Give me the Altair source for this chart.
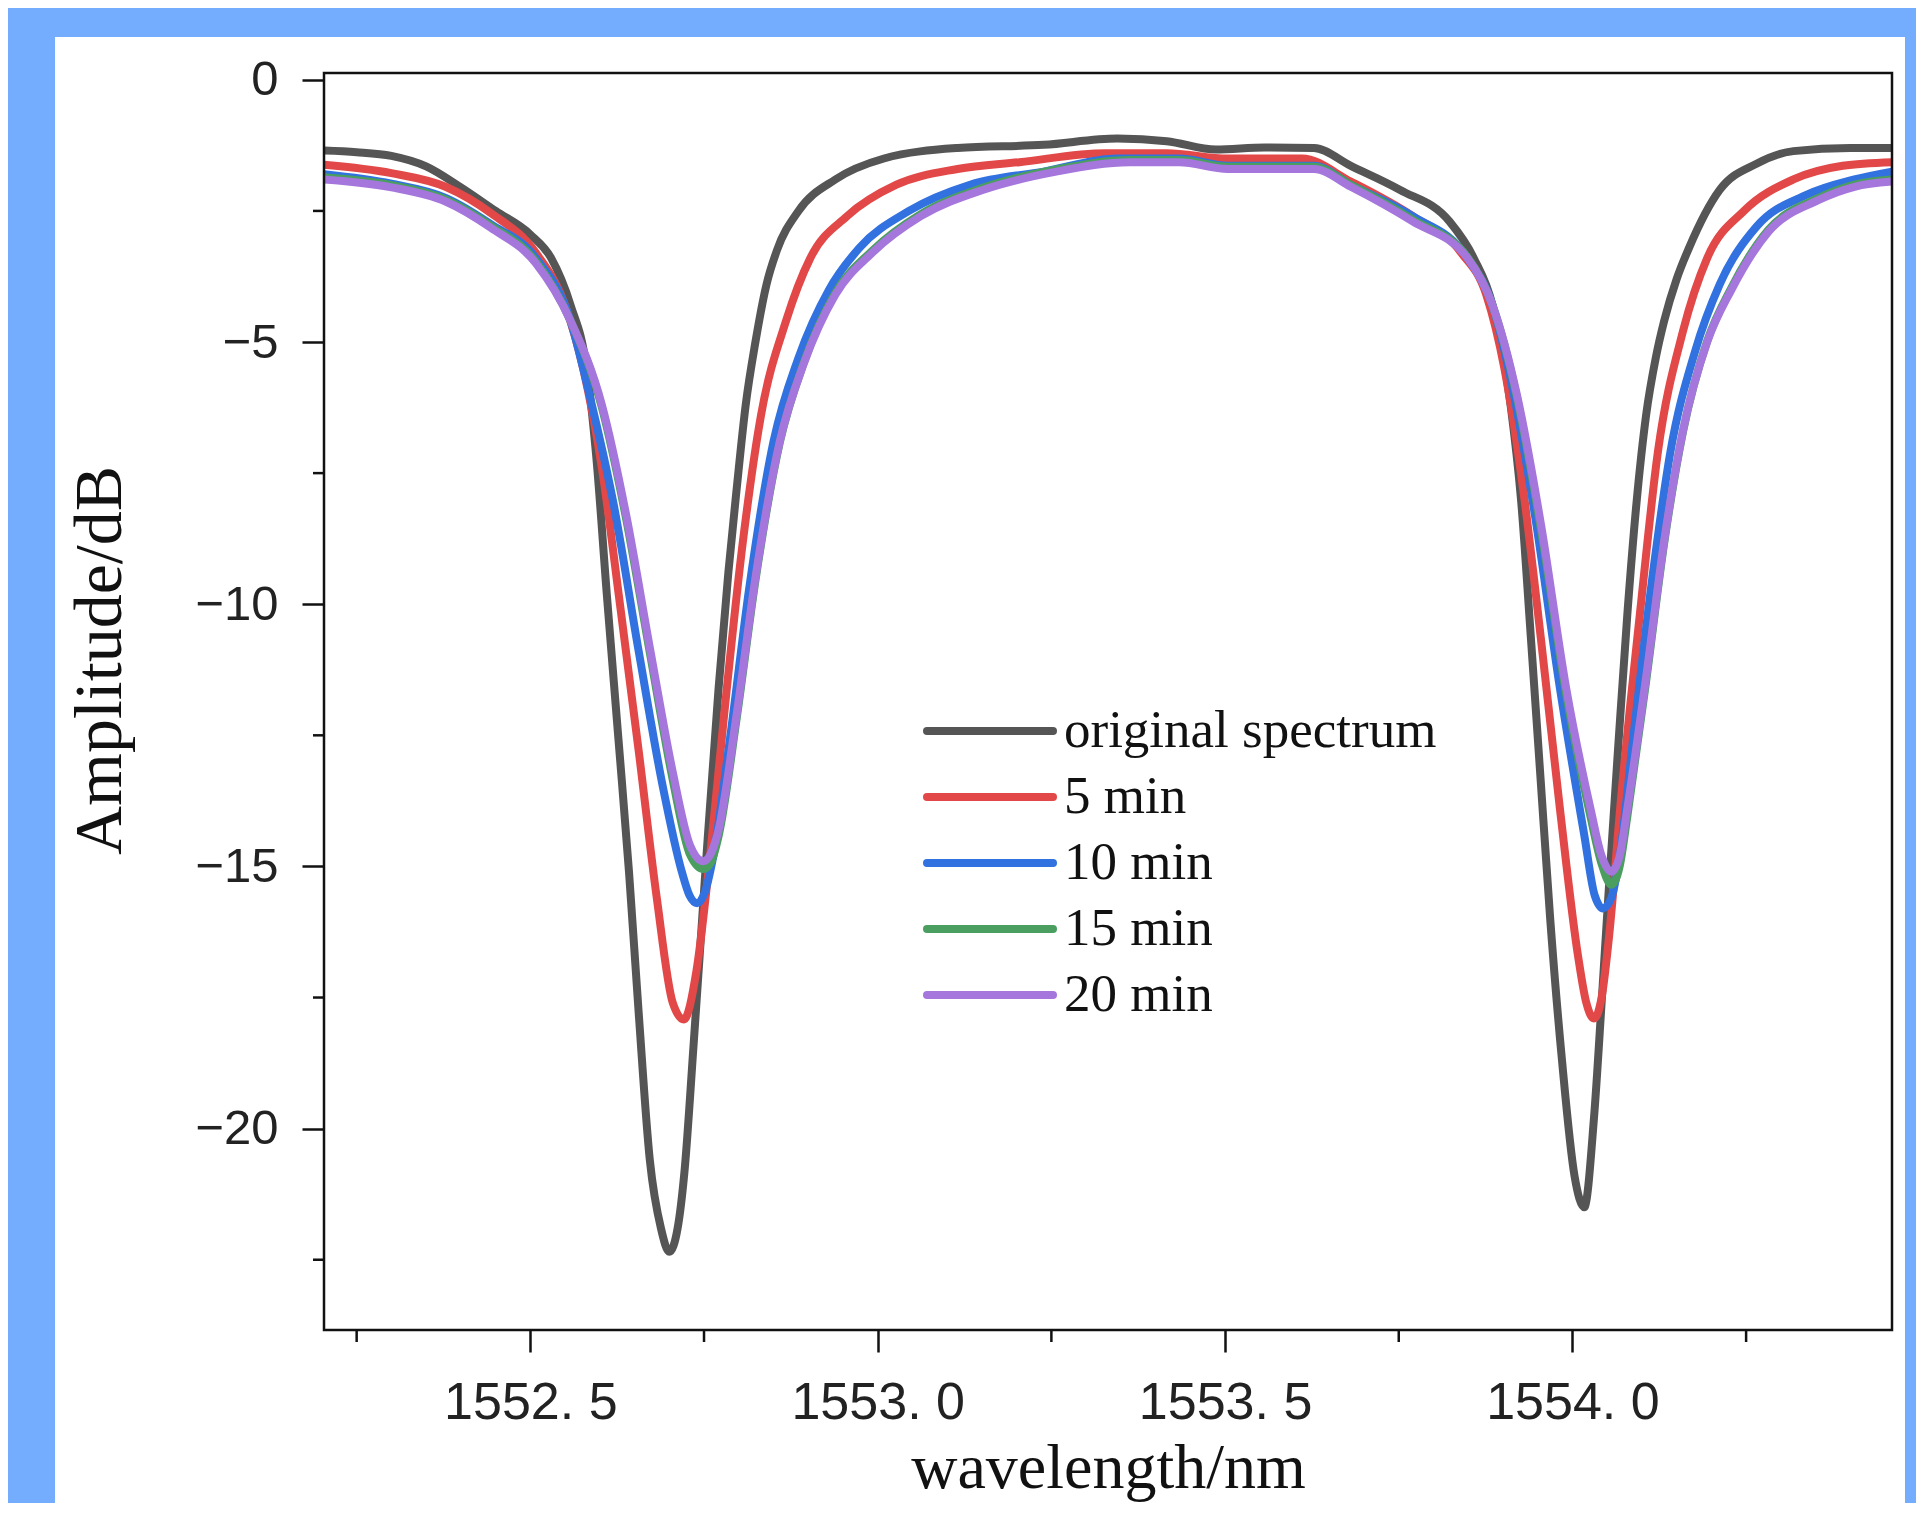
import altair as alt
import pandas as pd

# ---------------- data ----------------
series_names = ["original spectrum", "5 min", "10 min", "15 min", "20 min"]
series_colors = ["#555555", "#e24848", "#3271e0", "#4a9e60", "#a577dc"]

wl_orig = [1552.203, 1552.250, 1552.300, 1552.350, 1552.400, 1552.450, 1552.500, 1552.530, 1552.558, 1552.581,
           1552.595, 1552.610, 1552.627, 1552.642, 1552.656, 1552.672, 1552.688, 1552.700, 1552.712, 1552.722,
           1552.735, 1552.753, 1552.771, 1552.785, 1552.797, 1552.810, 1552.824, 1552.840, 1552.855, 1552.886,
           1552.939, 1553.009, 1553.115, 1553.239, 1553.345, 1553.416, 1553.487, 1553.557, 1553.628, 1553.681,
           1553.752, 1553.823, 1553.858, 1553.885, 1553.911, 1553.926, 1553.940, 1553.954, 1553.968, 1553.985,
           1554.003, 1554.017, 1554.031, 1554.042, 1554.053, 1554.066, 1554.079, 1554.092, 1554.106, 1554.120,
           1554.132, 1554.150, 1554.168, 1554.212, 1554.265, 1554.318, 1554.400, 1554.460]
db_orig = [-1.35, -1.38, -1.45, -1.65, -2.05, -2.50, -2.95, -3.40, -4.30, -5.50,
           -7.20, -9.80, -12.60, -15.10, -17.80, -20.60, -21.90, -22.35, -21.90, -20.80,
           -18.40, -14.90, -11.60, -9.40, -7.80, -6.20, -5.00, -3.90, -3.25, -2.50,
           -1.90, -1.50, -1.30, -1.24, -1.12, -1.17, -1.33, -1.29, -1.30, -1.64,
           -2.10, -2.70, -3.40, -4.30, -6.20, -8.00, -10.60, -13.30, -16.00, -18.70,
           -20.90, -21.50, -19.80, -17.60, -15.30, -12.70, -10.20, -8.10, -6.40, -5.30,
           -4.60, -3.80, -3.20, -2.10, -1.60, -1.36, -1.30, -1.30]

wl_5 = [1552.203, 1552.300, 1552.378, 1552.443, 1552.508, 1552.550, 1552.576, 1552.603, 1552.629, 1552.656,
        1552.682, 1552.705, 1552.721, 1552.739, 1552.758, 1552.779, 1552.806, 1552.832, 1552.868, 1552.903,
        1552.956, 1553.027, 1553.115, 1553.204, 1553.328, 1553.416, 1553.504, 1553.611, 1553.681, 1553.770,
        1553.840, 1553.876, 1553.902, 1553.929, 1553.955, 1553.982, 1554.008, 1554.020, 1554.031, 1554.042,
        1554.053, 1554.070, 1554.097, 1554.123, 1554.159, 1554.194, 1554.247, 1554.318, 1554.389, 1554.460]
db_5 = [-1.62, -1.78, -2.04, -2.54, -3.30, -4.30, -5.50, -7.40, -10.00, -12.80,
        -15.60, -17.60, -17.92, -17.00, -14.90, -12.10, -8.80, -6.40, -4.60, -3.40,
        -2.60, -2.00, -1.70, -1.57, -1.40, -1.40, -1.50, -1.50, -1.94, -2.60,
        -3.30, -4.10, -5.50, -7.80, -10.70, -13.90, -16.70, -17.60, -17.90, -17.50,
        -16.30, -13.70, -10.20, -7.10, -4.80, -3.40, -2.50, -1.90, -1.64, -1.57]

wl_10 = [1552.203, 1552.300, 1552.378, 1552.443, 1552.508, 1552.558, 1552.585, 1552.620, 1552.656, 1552.691,
         1552.718, 1552.729, 1552.740, 1552.751, 1552.762, 1552.788, 1552.815, 1552.850, 1552.886, 1552.930,
         1552.974, 1553.045, 1553.133, 1553.239, 1553.345, 1553.434, 1553.504, 1553.628, 1553.681, 1553.770,
         1553.849, 1553.885, 1553.911, 1553.946, 1553.982, 1554.017, 1554.032, 1554.044, 1554.056, 1554.067,
         1554.088, 1554.115, 1554.141, 1554.176, 1554.212, 1554.265, 1554.336, 1554.406, 1554.460]
db_10 = [-1.80, -1.98, -2.25, -2.75, -3.40, -4.60, -6.00, -8.10, -10.90, -13.50,
         -15.10, -15.55, -15.70, -15.50, -14.90, -12.50, -9.70, -6.90, -5.30, -4.00,
         -3.20, -2.50, -2.00, -1.75, -1.50, -1.50, -1.64, -1.64, -2.00, -2.60,
         -3.40, -4.30, -5.70, -8.30, -11.60, -14.40, -15.55, -15.80, -15.60, -14.90,
         -12.50, -9.50, -7.10, -5.20, -3.90, -2.80, -2.20, -1.90, -1.75]

wl_15 = [1552.203, 1552.300, 1552.378, 1552.443, 1552.508, 1552.558, 1552.603, 1552.638, 1552.673, 1552.705,
         1552.730, 1552.749, 1552.760, 1552.771, 1552.797, 1552.824, 1552.859, 1552.894, 1552.939, 1552.992,
         1553.062, 1553.151, 1553.257, 1553.363, 1553.434, 1553.504, 1553.628, 1553.681, 1553.770, 1553.849,
         1553.885, 1553.920, 1553.955, 1553.991, 1554.026, 1554.042, 1554.056, 1554.068, 1554.079, 1554.106,
         1554.132, 1554.159, 1554.194, 1554.229, 1554.282, 1554.353, 1554.406, 1554.460]
db_15 = [-1.86, -2.01, -2.28, -2.78, -3.46, -4.60, -6.25, -8.38, -11.00, -13.35,
         -14.78, -15.05, -14.92, -14.42, -12.18, -9.55, -6.92, -5.38, -4.06, -3.26,
         -2.56, -2.06, -1.71, -1.53, -1.53, -1.66, -1.66, -2.00, -2.66, -3.38,
         -4.30, -6.05, -8.60, -11.72, -14.05, -14.95, -15.35, -15.00, -14.05, -11.48,
         -8.84, -6.72, -4.98, -3.96, -2.86, -2.26, -2.00, -1.90]

wl_20 = [1552.203, 1552.300, 1552.378, 1552.443, 1552.508, 1552.558, 1552.603, 1552.638, 1552.673, 1552.705,
         1552.730, 1552.749, 1552.760, 1552.771, 1552.797, 1552.824, 1552.859, 1552.894, 1552.939, 1552.992,
         1553.062, 1553.151, 1553.257, 1553.363, 1553.434, 1553.504, 1553.628, 1553.681, 1553.770, 1553.849,
         1553.885, 1553.920, 1553.955, 1553.991, 1554.026, 1554.042, 1554.056, 1554.068, 1554.079, 1554.106,
         1554.132, 1554.159, 1554.194, 1554.229, 1554.282, 1554.353, 1554.406, 1554.460]
db_20 = [-1.90, -2.05, -2.32, -2.82, -3.50, -4.60, -6.20, -8.30, -10.90, -13.20,
         -14.60, -14.90, -14.75, -14.30, -12.10, -9.50, -6.90, -5.40, -4.10, -3.30,
         -2.60, -2.10, -1.75, -1.57, -1.57, -1.70, -1.70, -2.04, -2.70, -3.40,
         -4.30, -6.00, -8.50, -11.60, -13.90, -14.80, -15.10, -14.80, -13.90, -11.40,
         -8.80, -6.70, -5.00, -4.00, -2.90, -2.30, -2.04, -1.94]

x_major = [1552.5, 1553.0, 1553.5, 1554.0]
x_minor = [1552.25, 1552.75, 1553.25, 1553.75, 1554.25]
y_major = [0, -5, -10, -15, -20]
y_minor = [-2.5, -7.5, -12.5, -17.5, -22.5]

x_domain = [1552.203, 1554.46]
y_domain = [-23.84, 0.13]

# ---------------- layout ----------------
W, H = 1568, 1257
INK = "#111111"
LINE_W = 8

x_scale = alt.Scale(domain=x_domain, nice=False, zero=False)
y_scale = alt.Scale(domain=y_domain, nice=False, zero=False)
color_scale = alt.Scale(domain=series_names, range=series_colors)

x_axis = alt.Axis(
    values=x_major,
    labelExpr="replace(format(datum.value, '.1f'), '.', '. ')",
    title="wavelength/nm", titleFont="Liberation Serif", titleFontSize=64,
    titleFontWeight="normal", titleColor=INK, titleY=157, titleBaseline="alphabetic",
    labelFont="Liberation Sans", labelFontSize=52, labelColor="#222222", labelPadding=25,
    labelFlush=False, labelOverlap=False,
    tickSize=22, tickWidth=2.5, tickColor=INK, domain=False, grid=False, zindex=2,
)
y_axis = alt.Axis(
    values=y_major,
    title="Amplitude/dB", titleFont="Liberation Serif", titleFontSize=68,
    titleFontWeight="normal", titleColor=INK, titleAngle=270,
    titleX=-204, titleY=587, titleBaseline="alphabetic", titleAlign="center",
    labelFont="Liberation Sans", labelFontSize=49, labelColor="#222222", labelPadding=24,
    labelFlush=False, labelOverlap=False,
    tickSize=22, tickWidth=2.5, tickColor=INK, domain=False, grid=False, zindex=2,
)

X = alt.X("wavelength:Q", scale=x_scale, axis=x_axis)
Y = alt.Y("amplitude:Q", scale=y_scale, axis=y_axis)
one = pd.DataFrame({"k": [0]})

panel = alt.Chart(one).mark_rect(color="white").encode(
    x=alt.value(-269), x2=alt.value(1581), y=alt.value(-36), y2=alt.value(1460)
)

line_layers = []
for name, wl, db in zip(series_names,
                        [wl_orig, wl_5, wl_10, wl_15, wl_20],
                        [db_orig, db_5, db_10, db_15, db_20]):
    df = pd.DataFrame({"wavelength": wl, "amplitude": db, "series": name})
    line_layers.append(
        alt.Chart(df).mark_line(strokeWidth=LINE_W, interpolate="monotone", clip=True,
                                strokeJoin="round", strokeCap="round").encode(
            x=X, y=Y, color=alt.Color("series:N", scale=color_scale, legend=None)
        )
    )

xminor_df = pd.DataFrame({"wavelength": x_minor})
xminor = alt.Chart(xminor_df).mark_rule(color=INK, strokeWidth=2.5).encode(
    x=X, y=alt.value(H), y2=alt.value(H + 12)
)
yminor_df = pd.DataFrame({"amplitude": y_minor})
yminor = alt.Chart(yminor_df).mark_rule(color=INK, strokeWidth=2.5).encode(
    y=Y, x=alt.value(0), x2=alt.value(-11)
)

frame = alt.Chart(one).mark_rect(filled=False, color=INK, strokeWidth=2.5).encode(
    x=alt.value(0), x2=alt.value(W), y=alt.value(0), y2=alt.value(H)
)

main = alt.layer(panel, *line_layers, xminor, yminor, frame)

# ---------------- legend ----------------
legend_df = pd.DataFrame({"series": series_names, "row": list(range(len(series_names)))})
row_scale = alt.Scale(type="point", range=[658, 922], padding=0)
leg_lines = alt.Chart(legend_df).mark_rule(strokeWidth=LINE_W, strokeCap="round").encode(
    x=alt.value(603), x2=alt.value(729),
    y=alt.Y("row:O", scale=row_scale, axis=None),
    color=alt.Color("series:N", scale=color_scale, legend=None),
)
leg_text = alt.Chart(legend_df).mark_text(
    align="left", baseline="middle", font="Liberation Serif", fontSize=53, color=INK
).encode(
    x=alt.value(740),
    y=alt.Y("row:O", scale=row_scale, axis=None),
    text="series:N",
)
legend = alt.layer(leg_lines, leg_text)

chart = alt.layer(main, legend).resolve_scale(y="independent").properties(
    width=W, height=H,
    background="#74adfe",
    autosize=alt.AutoSizeParams(type="none"),
    padding={"left": 316, "top": 65, "right": 24, "bottom": 173},
).configure_view(stroke="transparent")

chart.save("out.html", embed_options={"renderer": "svg", "actions": False})
